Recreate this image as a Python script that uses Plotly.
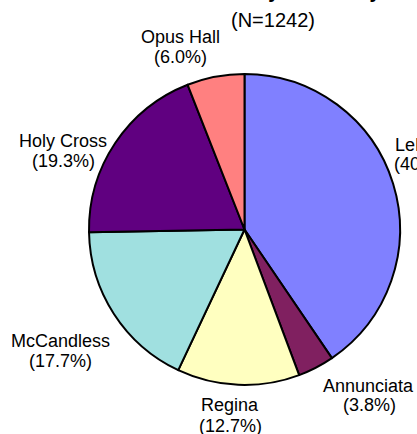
import plotly.graph_objects as go

# ---- data ----
dorms = ["LeMans", "Annunciata", "Regina", "McCandless", "Holy Cross", "Opus Hall"]
counts = [503, 47, 158, 220, 240, 74]
colors = ["#8080FF", "#802060", "#FFFFC0", "#A0E0E0", "#600080", "#FF8080"]
title_main = "Students by Dormitory"
n_total = sum(counts)

# label anchor points in pixels (name line centre, percent line centre)
label_pos = [
    (427, 145, 425, 164),
    (368, 386, 369, 405),
    (230, 405, 230, 426),
    (60, 341, 60, 361),
    (63, 141, 63, 161),
    (180, 37, 180, 57),
]

W, H = 417, 434
pie_left, pie_right, pie_top, pie_bottom = 88, 401, 74, 385

fig = go.Figure(go.Pie(
    labels=dorms,
    values=counts,
    sort=False,
    direction="clockwise",
    rotation=0,
    marker=dict(colors=colors, line=dict(color="black", width=2)),
    textinfo="none",
    hoverinfo="label+percent",
    showlegend=False,
    domain=dict(x=[pie_left / W, pie_right / W], y=[1 - pie_bottom / H, 1 - pie_top / H]),
))

font = "Liberation Sans, Arial, sans-serif"
ann = []
for name, c, (x1, y1, x2, y2) in zip(dorms, counts, label_pos):
    pct = 100.0 * c / n_total
    ann.append(dict(x=x1 / W, y=1 - y1 / H, xref="paper", yref="paper", text=name,
                    showarrow=False, xanchor="center", yanchor="middle",
                    font=dict(family=font, size=18, color="black")))
    ann.append(dict(x=x2 / W, y=1 - y2 / H, xref="paper", yref="paper", text=f"({pct:.1f}%)",
                    showarrow=False, xanchor="center", yanchor="middle",
                    font=dict(family=font, size=18, color="black")))

ann.append(dict(x=273 / W, y=1 - 4 / H, xref="paper", yref="paper", text=f"<b>{title_main}</b>",
                showarrow=False, xanchor="center", yanchor="bottom",
                font=dict(family=font, size=20, color="black")))
ann.append(dict(x=273 / W, y=1 - 20 / H, xref="paper", yref="paper", text=f"(N={n_total})",
                showarrow=False, xanchor="center", yanchor="middle",
                font=dict(family=font, size=20, color="black")))

fig.update_layout(
    width=W, height=H, autosize=False,
    margin=dict(l=0, r=0, t=0, b=0),
    paper_bgcolor="white", plot_bgcolor="white",
    annotations=ann,
)

fig.write_html("out.html", config={"displayModeBar": False},
               post_script="document.body.style.margin='0';document.body.style.overflow='hidden';")
